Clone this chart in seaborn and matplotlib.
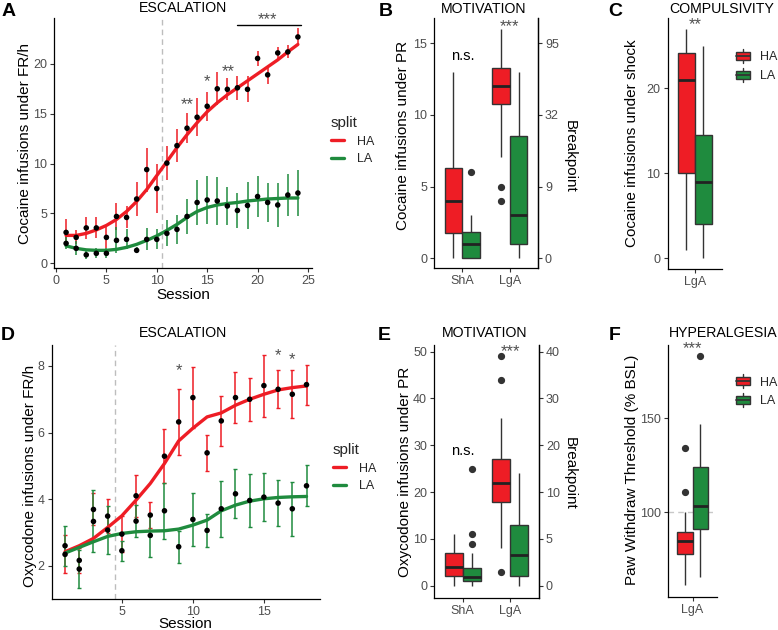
import numpy as np
import pandas as pd
import matplotlib
matplotlib.use("Agg")
import matplotlib.pyplot as plt
import seaborn as sns
from matplotlib.legend_handler import HandlerBase
from matplotlib.patches import Rectangle, Patch
from matplotlib.lines import Line2D

# ---------------- data ----------------
# Panel A: cocaine escalation (mean, SEM, smooth fit)
sessions_a = list(range(1, 25))
ha_mean_a = [3.1, 2.6, 3.55, 3.55, 2.6, 4.7, 4.6, 6.45, 9.4, 7.5, 10.05, 11.8, 13.55, 14.65, 15.75,
             17.5, 17.45, 17.6, 17.45, 20.55, 18.9, 21.1, 21.2, 22.7]
ha_se_a = [1.3, 0.7, 1.1, 1.05, 1.05, 1.35, 1.1, 1.75, 2.2, 2.5, 1.7, 1.65, 1.5, 1.9, 1.45,
           1.65, 1.1, 1.2, 1.3, 0.75, 0.9, 0.6, 0.65, 0.85]
la_mean_a = [2.0, 1.5, 0.85, 1.0, 1.0, 2.3, 2.4, 1.3, 2.4, 2.4, 3.0, 3.4, 4.7, 6.1, 6.35,
             6.25, 5.75, 5.3, 5.8, 6.7, 6.1, 5.85, 6.85, 7.05]
la_se_a = [0.6, 0.7, 0.45, 0.5, 0.5, 1.3, 1.0, 0.3, 1.1, 1.0, 1.3, 1.45, 1.75, 2.3, 2.45,
           2.4, 1.95, 1.8, 2.35, 2.1, 2.0, 2.2, 2.1, 2.3]
ha_fit_a = [2.8, 2.8, 3.0, 3.35, 3.8, 4.4, 5.2, 6.2, 7.4, 8.8, 10.2, 11.6, 12.9, 14.1, 15.2,
            16.1, 16.9, 17.6, 18.3, 19.0, 19.7, 20.4, 21.2, 21.95]
la_fit_a = [1.75, 1.5, 1.35, 1.3, 1.3, 1.4, 1.6, 1.9, 2.3, 2.75, 3.3, 3.9, 4.6, 5.2, 5.6,
            5.85, 6.0, 6.1, 6.25, 6.35, 6.45, 6.5, 6.55, 6.55]

# Panel D: oxycodone escalation
sessions_d = list(range(1, 19))
ha_mean_d = [2.34, 2.16, 3.69, 3.49, 2.95, 4.1, 3.52, 5.29, 6.32, 7.05, 5.39, 6.35, 7.05, 7.0,
             7.41, 7.3, 7.15, 7.44]
ha_se_d = [0.57, 0.38, 0.48, 0.5, 0.54, 0.63, 0.4, 0.82, 1.0, 0.92, 0.54, 0.74, 0.76, 0.65,
           0.93, 0.57, 0.72, 0.6]
la_mean_d = [2.6, 1.9, 3.33, 3.07, 2.45, 3.34, 2.91, 3.65, 2.57, 3.39, 3.06, 3.71, 4.16, 3.96,
             4.06, 3.88, 3.71, 4.4]
la_se_d = [0.6, 0.57, 0.93, 0.72, 0.3, 0.47, 0.64, 0.84, 0.48, 0.8, 0.5, 0.84, 0.74, 0.79,
           0.73, 0.69, 0.81, 0.62]
ha_fit_d = [2.42, 2.6, 2.82, 3.15, 3.5, 3.97, 4.47, 5.07, 5.75, 6.13, 6.47, 6.59, 6.82, 7.0,
            7.15, 7.28, 7.35, 7.4]
la_fit_d = [2.38, 2.55, 2.72, 2.88, 2.97, 3.02, 3.04, 3.05, 3.1, 3.22, 3.37, 3.65, 3.82, 3.94,
            4.01, 4.05, 4.07, 4.08]

# Panel B: cocaine under PR (individual values per group)
b_sha_ha = [0, 1.75, 4, 6.3, 13]
b_sha_la = [0, 0, 0, 0.5, 1, 1.5, 1.8, 3, 6]
b_lga_ha = [4, 5, 7.1, 10.75, 11, 11.5, 12, 12.5, 13, 13.25, 14, 15, 16]
b_lga_la = [0, 1, 3, 8.5, 13]
b_right_ticks = [0, 5, 10, 15]
b_right_labels = ["0", "9", "32", "95"]

# Panel C: cocaine under shock
c_lga_ha = [1, 10, 21, 24.2, 27]
c_lga_la = [0, 4, 9, 14.5, 25]

# Panel E: oxycodone under PR
e_sha_ha = [0, 2, 4, 7, 11]
e_sha_la = [0, 0, 0.5, 0.5, 1, 1.2, 1.4, 1.6, 1.9, 2.2, 2.6, 3.2, 3.7, 7, 9, 11, 25]
e_lga_ha = [3, 8.1, 14, 17.8, 19, 20.5, 22, 24, 25.5, 27, 35.8, 44, 49]
e_lga_la = [0, 2, 6.5, 13, 24]
e_right_ticks = [0, 10, 20, 30, 40, 50]
e_right_labels = ["0", "5", "10", "20", "30", "40"]

# Panel F: hyperalgesia
f_lga_ha = [61, 70, 75, 77.4, 80, 82, 84.5, 86, 88, 89.5, 99.8, 110.5, 134]
f_lga_la = [65.5, 80, 90.9, 97, 103.2, 112, 124.2, 147.2, 183.3]

groups = ["HA", "LA"]
categories = ["ShA", "LgA"]

# ---------------- style ----------------
RED = "#EE1D25"
GREEN = "#1F8B3E"
DARK = "#333333"
TICKC = "#4D4D4D"
STARC = "#505050"
pal = {"HA": RED, "LA": GREEN}

sns.set_style("ticks")
plt.rcParams["font.family"] = ["Liberation Sans", "DejaVu Sans"]
plt.rcParams["axes.linewidth"] = 0.9

W, H = 778, 630
fig = plt.figure(figsize=(W / 100, H / 100), dpi=100)


def rect(l, t, r, b):
    return [l / W, 1 - b / H, (r - l) / W, (b - t) / H]


def fx(x):
    return x / W


def fy(y):
    return 1 - y / H


def style_axes(ax, right=False):
    ax.spines["top"].set_visible(False)
    ax.spines["right"].set_visible(right)
    for s in ["left", "bottom", "right"]:
        ax.spines[s].set_color("black")
    ax.tick_params(axis="both", length=3, width=0.8, color=DARK, labelcolor=TICKC,
                   labelsize=9, pad=2)
    ax.set_xlabel("")
    ax.set_ylabel("")


def ts_frame(sessions, ha_m, ha_s, la_m, la_s, ha_f, la_f):
    rows = []
    for g, m, s, f in [("HA", ha_m, ha_s, ha_f), ("LA", la_m, la_s, la_f)]:
        for i, sess in enumerate(sessions):
            rows.append({"session": sess, "split": g, "mean": m[i], "se": s[i], "fit": f[i]})
    return pd.DataFrame(rows)


def escalation(ax, df, capsize):
    for g in groups:
        d = df[df["split"] == g]
        ax.errorbar(d["session"], d["mean"], yerr=d["se"], fmt="none", ecolor=pal[g],
                    elinewidth=1.1, capsize=capsize, capthick=1.0, zorder=2)
    sns.lineplot(data=df, x="session", y="fit", hue="split", palette=pal, linewidth=2.4,
                 legend=False, ax=ax, zorder=3)
    sns.scatterplot(data=df, x="session", y="mean", color="black", s=16, edgecolor="none",
                    legend=False, ax=ax, zorder=4)


def box_frame(d):
    rows = []
    for (cat, g), vals in d.items():
        for v in vals:
            rows.append({"cat": cat, "split": g, "val": v})
    return pd.DataFrame(rows)


def boxes(ax, df, order):
    sns.boxplot(data=df, x="cat", y="val", hue="split", order=order, hue_order=groups,
                palette=pal, saturation=1, width=0.75, gap=0, dodge=True, whis=1.5,
                linecolor=DARK, linewidth=1.0, showcaps=False,
                flierprops=dict(marker="o", markerfacecolor=DARK, markeredgecolor=DARK,
                                markersize=4.2),
                medianprops=dict(color="#222222", linewidth=2.0),
                legend=False, ax=ax)


class BoxHandler(HandlerBase):
    def create_artists(self, legend, orig_handle, xdescent, ydescent, width, height,
                       fontsize, trans):
        fc = orig_handle.get_facecolor()
        x0, y0 = -xdescent, -ydescent
        cx = x0 + width / 2
        w1 = Line2D([cx, cx], [y0 - 0.2 * height, y0 + 0.1 * height], color=DARK, lw=1.0,
                    transform=trans)
        w2 = Line2D([cx, cx], [y0 + 0.9 * height, y0 + 1.2 * height], color=DARK, lw=1.0,
                    transform=trans)
        r = Rectangle((x0, y0 + 0.1 * height), width, 0.8 * height, facecolor=fc,
                      edgecolor=DARK, lw=1.0, transform=trans)
        m = Line2D([x0, x0 + width], [y0 + 0.5 * height] * 2, color=DARK, lw=1.3,
                   transform=trans)
        return [w1, w2, r, m]


def split_legend(ax, x, y):
    handles = [Line2D([], [], color=pal[g], lw=2.4) for g in groups]
    leg = ax.legend(handles, groups, title="split", loc="upper left",
                    bbox_to_anchor=(fx(x), fy(y)), bbox_transform=fig.transFigure,
                    frameon=False, fontsize=9, title_fontsize=11, handlelength=1.05,
                    handletextpad=1.0, labelspacing=0.45, borderpad=0, borderaxespad=0,
                    alignment="left")
    return leg


def box_legend(ax, x, y):
    handles = [Patch(facecolor=pal[g]) for g in groups]
    ax.legend(handles, groups, loc="upper left", bbox_to_anchor=(fx(x), fy(y)),
              bbox_transform=fig.transFigure, frameon=False, fontsize=9,
              handlelength=1.1, handleheight=0.9, handletextpad=0.8, labelspacing=0.5,
              borderpad=0, borderaxespad=0, handler_map={Patch: BoxHandler()})


def star(ax, x, y, s, size=12, color=STARC):
    ax.text(x, y, s, ha="center", va="center", fontsize=size, color=color)


def ftext(x, y, s, **kw):
    fig.text(fx(x), fy(y), s, ha="center", va="center", **kw)


# ---------------- Panel A ----------------
axA = fig.add_axes(rect(54, 18, 312, 268))
dfA = ts_frame(sessions_a, ha_mean_a, ha_se_a, la_mean_a, la_se_a, ha_fit_a, la_fit_a)
axA.axvline(10.5, color="#BDBDBD", lw=1.0, ls=(0, (4, 3)), zorder=1)
escalation(axA, dfA, capsize=0)
axA.set_xlim(-0.2, 25.4)
axA.set_ylim(-0.47, 24.6)
axA.set_xticks([0, 5, 10, 15, 20, 25])
axA.set_yticks([0, 5, 10, 15, 20])
style_axes(axA)
axA.plot([18, 24.3], [23.9, 23.9], color="black", lw=1.0, clip_on=False)
star(axA, 21.0, 24.45, "***")
star(axA, 13.0, 15.9, "**")
star(axA, 15.0, 18.2, "*")
star(axA, 17.1, 19.2, "**")
split_legend(axA, 331, 116)

# ---------------- Panel B ----------------
axB = fig.add_axes(rect(434, 18, 538, 268))
dfB = box_frame({("ShA", "HA"): b_sha_ha, ("ShA", "LA"): b_sha_la,
                 ("LgA", "HA"): b_lga_ha, ("LgA", "LA"): b_lga_la})
boxes(axB, dfB, categories)
axB.set_xlim(-0.6, 1.6)
axB.set_ylim(-0.68, 16.77)
axB.set_yticks([0, 5, 10, 15])
style_axes(axB, right=True)
axB2 = axB.twinx()
axB2.set_ylim(axB.get_ylim())
axB2.set_yticks(b_right_ticks)
axB2.set_yticklabels(b_right_labels)
style_axes(axB2, right=True)
axB2.spines["left"].set_visible(False)
axB2.spines["bottom"].set_visible(False)
star(axB, 0, 14.1, "n.s.", size=10.5, color="black")
star(axB, 1, 16.2, "***")

# ---------------- Panel C ----------------
axC = fig.add_axes(rect(667.5, 18, 722, 269))
dfC = box_frame({("LgA", "HA"): c_lga_ha, ("LgA", "LA"): c_lga_la})
boxes(axC, dfC, ["LgA"])
axC.set_xlim(-0.6, 0.6)
axC.set_ylim(-1.26, 28.3)
axC.set_yticks([0, 10, 20])
style_axes(axC)
star(axC, 0, 27.5, "**")
box_legend(axC, 736, 51)

# ---------------- Panel D ----------------
axD = fig.add_axes(rect(51.7, 345, 320, 599))
dfD = ts_frame(sessions_d, ha_mean_d, ha_se_d, la_mean_d, la_se_d, ha_fit_d, la_fit_d)
axD.axvline(4.5, color="#BDBDBD", lw=1.0, ls=(0, (4, 3)), zorder=1)
escalation(axD, dfD, capsize=1.2)
axD.set_xlim(0.06, 18.95)
axD.set_ylim(1.0, 8.63)
axD.set_xticks([5, 10, 15])
axD.set_yticks([2, 4, 6, 8])
style_axes(axD)
star(axD, 9, 7.85, "*")
star(axD, 16, 8.3, "*")
star(axD, 17, 8.2, "*")
split_legend(axD, 333, 443)

# ---------------- Panel E ----------------
axE = fig.add_axes(rect(434, 345, 539, 597.7))
dfE = box_frame({("ShA", "HA"): e_sha_ha, ("ShA", "LA"): e_sha_la,
                 ("LgA", "HA"): e_lga_ha, ("LgA", "LA"): e_lga_la})
boxes(axE, dfE, categories)
axE.set_xlim(-0.6, 1.6)
axE.set_ylim(-2.56, 51.4)
axE.set_yticks([0, 10, 20, 30, 40, 50])
style_axes(axE, right=True)
axE2 = axE.twinx()
axE2.set_ylim(axE.get_ylim())
axE2.set_yticks(e_right_ticks)
axE2.set_yticklabels(e_right_labels)
style_axes(axE2, right=True)
axE2.spines["left"].set_visible(False)
axE2.spines["bottom"].set_visible(False)
star(axE, 0, 28.8, "n.s.", size=10.5, color="black")
star(axE, 1, 50.0, "***")

# ---------------- Panel F ----------------
axF = fig.add_axes(rect(668, 345, 717, 597.3))
dfF = box_frame({("LgA", "HA"): f_lga_ha, ("LgA", "LA"): f_lga_la})
axF.axhline(100, color="#C8C8C8", lw=1.0, ls=(0, (4, 3)), zorder=0)
boxes(axF, dfF, ["LgA"])
axF.set_xlim(-0.6, 0.6)
axF.set_ylim(54.5, 189.1)
axF.set_yticks([100, 150])
style_axes(axF)
star(axF, 0, 187.0, "***")
box_legend(axF, 736, 376)

# ---------------- labels, titles, panel letters ----------------
lab = dict(fontsize=11, color="black")
ftext(25, 144, "Cocaine infusions under FR/h", rotation=90, **lab)
ftext(183, 295, "Session", **lab)
ftext(403, 135, "Cocaine infusions under PR", rotation=90, **lab)
ftext(570, 156, "Breakpoint", rotation=-90, **lab)
ftext(632, 143, "Cocaine infusions under shock", rotation=90, **lab)
ftext(30, 476, "Oxycodone infusions under FR/h", rotation=90, **lab)
ftext(185, 624, "Session", **lab)
ftext(405, 472, "Oxycodone infusions under PR", rotation=90, **lab)
ftext(570, 473, "Breakpoint", rotation=-90, **lab)
ftext(632, 470, "Paw Withdraw Threshold (% BSL)", rotation=90, **lab)

tit = dict(fontsize=10.2, color="black")
ftext(183, 8, "ESCALATION", **tit)
ftext(484, 9, "MOTIVATION", **tit)
ftext(722, 9, "COMPULSIVITY", **tit)
ftext(183, 333, "ESCALATION", **tit)
ftext(485, 333, "MOTIVATION", **tit)
ftext(723, 333, "HYPERALGESIA", **tit)

let = dict(fontsize=14, fontweight="bold", color="black")
ftext(9, 12, "A", **let)
ftext(386, 11, "B", **let)
ftext(615, 11, "C", **let)
ftext(8, 336, "D", **let)
ftext(384, 336, "E", **let)
ftext(615, 336, "F", **let)

fig.savefig("out.png", dpi=100)
